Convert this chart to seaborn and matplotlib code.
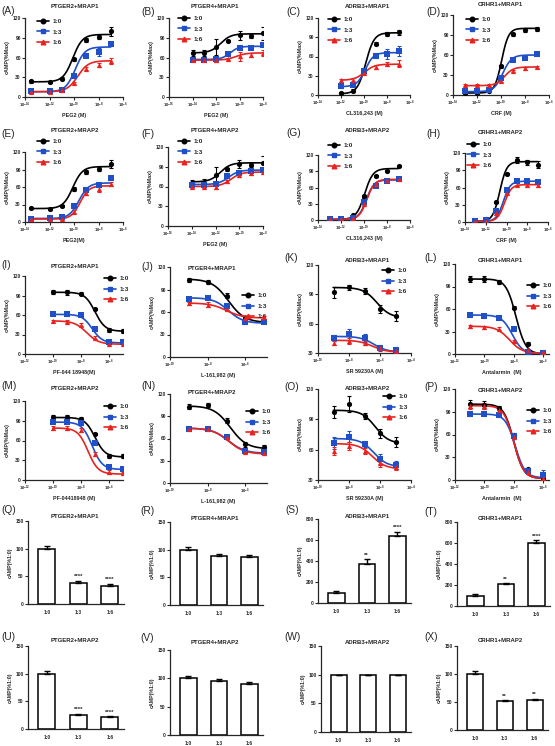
import numpy as np
import pandas as pd
import matplotlib
matplotlib.use("Agg")
import matplotlib.pyplot as plt
import seaborn as sns
from matplotlib.lines import Line2D
from matplotlib.ticker import FixedLocator, NullLocator, FuncFormatter

# ---------------- DATA ----------------
ratios = ["1:0", "1:3", "1:6"]

# Dose-response: x = log10 concentration (M); y = cAMP (%Max); fit = [low-conc level, high-conc level, logEC50, hill]
A_x = [-13.5, -12, -11, -10, -9, -8, -7]
A_10 = [24, 23, 28, 57, 86, 91, 100]; A_e10 = [2, 2, 2, 3, 3, 3, 7]
A_13 = [9, 9, 11, 32, 63, 69, 81];    A_e13 = [2, 2, 2, 3, 2, 6, 3]
A_16 = [8, 8, 10, 21, 43, 49, 55];    A_e16 = [2, 2, 2, 2, 2, 3, 5]
A_fit = [[23, 95, -10.1, 1.1], [8, 76, -9.9, 1.1], [8, 55, -9.7, 1.0]]

B_x = [-14, -13, -12, -11, -10, -9, -8]
B_10 = [67, 67, 76, 85, 94, 92, 97]; B_e10 = [4, 4, 12, 2, 7, 3, 10]
B_13 = [56, 56, 57, 65, 75, 75, 79]; B_e13 = [2, 2, 2, 2, 4, 3, 2]
B_16 = [56, 56, 56, 58, 62, 64, 67]; B_e16 = [2, 2, 3, 2, 7, 3, 4]
B_fit = [[67, 96, -11.6, 1.0], [57, 77, -10.8, 1.2], [56, 67, -10.3, 1.0]]

C_x = [-12, -11, -10, -9, -8, -7]
C_10 = [3, 7, 39, 80, 95, 98];   C_e10 = [2, 2, 2, 2, 3, 4]
C_13 = [14, 16, 37, 61, 64, 69]; C_e13 = [3, 2, 2, 4, 8, 8]
C_16 = [23, 24, 34, 44, 48, 49]; C_e16 = [2, 2, 2, 3, 3, 5]
C_fit = [[2, 97, -9.85, 1.2], [13, 66, -9.9, 1.2], [23, 48, -9.95, 1.0]]

D_x = [-13, -12, -11, -10, -9, -8, -7]
D_10 = [3, 3, 6, 43, 91, 97, 99];   D_e10 = [1, 1, 1, 2, 2, 3, 3]
D_13 = [6, 6, 8, 26, 52, 56, 61];   D_e13 = [1, 1, 1, 2, 2, 2, 2]
D_16 = [15, 15, 15, 21, 36, 40, 42]; D_e16 = [1, 1, 1, 2, 2, 2, 2]
D_fit = [[3, 100, -9.95, 1.5], [5, 60, -9.85, 1.2], [14, 42, -9.7, 1.2]]

E_x = [-13.5, -12, -11, -10, -9, -8, -7]
E_10 = [24, 22, 28, 57, 86, 91, 100]; E_e10 = [2, 2, 2, 3, 3, 3, 7]
E_13 = [6, 7, 8, 27, 55, 63, 75];     E_e13 = [2, 2, 2, 3, 3, 3, 3]
E_16 = [5, 5, 6, 18, 50, 57, 65];     E_e16 = [2, 2, 2, 3, 3, 5, 3]
E_fit = [[23, 95, -10.1, 1.1], [6, 67, -9.6, 1.1], [5, 62, -9.5, 1.2]]

F_x = [-14, -13, -12, -11, -10, -9, -8]
F_10 = [65, 66, 77, 86, 94, 92, 96]; F_e10 = [5, 5, 13, 2, 6, 3, 10]
F_13 = [63, 63, 64, 76, 80, 84, 85]; F_e13 = [3, 3, 3, 2, 3, 2, 3]
F_16 = [60, 60, 59, 68, 78, 80, 82]; F_e16 = [3, 3, 3, 2, 3, 3, 3]
F_fit = [[67, 96, -11.6, 1.0], [63, 85, -10.9, 1.0], [60, 82, -10.7, 1.0]]

G_x = [-13, -12, -11, -10, -9, -8, -7]
G_10 = [1, 1, 9, 45, 81, 91, 100]; G_e10 = [1, 1, 1, 2, 2, 2, 2]
G_13 = [1, 1, 4, 33, 63, 72, 75];  G_e13 = [1, 1, 1, 2, 2, 2, 2]
G_16 = [1, 1, 3, 29, 66, 74, 76];  G_e16 = [1, 1, 1, 2, 2, 2, 2]
G_fit = [[1, 95, -9.95, 1.2], [1, 74, -9.8, 1.3], [1, 75, -9.75, 1.3]]

H_x = [-13, -12, -11, -10, -9, -8, -7]
H_10 = [1, 5, 35, 84, 108, 104, 100]; H_e10 = [1, 1, 2, 2, 5, 4, 6]
H_13 = [1, 3, 20, 56, 71, 71, 70];    H_e13 = [1, 1, 2, 2, 3, 3, 3]
H_16 = [1, 2, 15, 50, 65, 65, 64];    H_e16 = [1, 1, 2, 2, 3, 3, 3]
H_fit = [[1, 105, -10.65, 1.3], [1, 71, -10.3, 1.3], [1, 65, -10.2, 1.3]]

I_x = [-10, -9, -8, -7, -6, -5]
I_10 = [95, 95, 93, 69, 37, 36]; I_e10 = [3, 4, 2, 2, 3, 3]
I_13 = [61, 61, 60, 38, 18, 18]; I_e13 = [3, 2, 2, 3, 3, 3]
I_16 = [51, 50, 45, 25, 16, 16]; I_e16 = [2, 2, 2, 2, 2, 2]
I_fit = [[95, 35, -7.0, 1.2], [61, 17, -7.2, 1.2], [51, 15, -7.6, 1.0]]

J_x = [-9, -8, -7, -6, -5]
J_10 = [103, 100, 82, 52, 48]; J_e10 = [3, 3, 3, 3, 3]
J_13 = [77, 79, 68, 47, 47];   J_e13 = [3, 3, 2, 3, 2]
J_16 = [72, 70, 64, 52, 53];   J_e16 = [2, 3, 2, 2, 2]
J_fit = [[104, 46, -6.9, 1.0], [79, 45, -6.9, 1.1], [72, 52, -7.0, 1.0]]

K_x = [-9, -8, -7, -6, -5]
K_10 = [92, 97, 93, 75, 68]; K_e10 = [6, 3, 3, 4, 5]
K_13 = [45, 49, 45, 35, 33]; K_e13 = [3, 6, 4, 3, 3]
K_16 = [40, 42, 40, 35, 32]; K_e16 = [2, 3, 2, 2, 2]
K_fit = [[97, 66, -6.2, 1.0], [47, 31, -6.4, 1.0], [43, 31, -6.5, 1.0]]

L_x = [-11, -10, -9, -8, -7, -6]
L_10 = [100, 100, 96, 62, 14, 2]; L_e10 = [4, 4, 3, 2, 2, 2]
L_13 = [52, 51, 48, 33, 3, 2];    L_e13 = [3, 3, 2, 2, 2, 2]
L_16 = [37, 36, 34, 17, 5, 3];    L_e16 = [2, 2, 2, 2, 2, 2]
L_fit = [[100, 0, -7.85, 1.3], [52, 0, -8.1, 1.2], [37, 1, -8.3, 1.0]]

M_x = [-10, -9, -8, -7, -6, -5]
M_10 = [95, 95, 93, 70, 37, 36]; M_e10 = [3, 4, 3, 2, 3, 3]
M_13 = [88, 88, 86, 56, 20, 17]; M_e13 = [3, 3, 3, 3, 3, 3]
M_16 = [79, 79, 76, 40, 12, 10]; M_e16 = [3, 3, 3, 3, 3, 2]
M_fit = [[95, 35, -7.0, 1.2], [88, 16, -7.2, 1.2], [79, 9, -7.5, 1.2]]

N_x = [-9, -8, -7, -6, -5]
N_10 = [103, 105, 84, 52, 48]; N_e10 = [3, 3, 3, 3, 3]
N_13 = [73, 73, 62, 43, 42];   N_e13 = [2, 2, 2, 2, 2]
N_16 = [73, 73, 62, 42, 40];   N_e16 = [2, 2, 2, 2, 2]
N_fit = [[104, 46, -6.8, 1.0], [74, 40, -6.9, 1.0], [74, 39, -6.9, 1.0]]

O_x = [-9, -8, -7, -6, -5]
O_10 = [97, 105, 93, 76, 68]; O_e10 = [6, 8, 3, 4, 5]
O_13 = [67, 73, 66, 51, 45];  O_e13 = [6, 5, 3, 5, 4]
O_16 = [59, 64, 59, 47, 43];  O_e16 = [4, 4, 3, 4, 3]
O_fit = [[99, 66, -6.3, 1.0], [71, 43, -6.4, 1.0], [66, 41, -6.5, 1.0]]

P_x = [-11, -10, -9, -8, -7, -6]
P_10 = [100, 99, 95, 59, 14, 3]; P_e10 = [5, 5, 3, 3, 2, 2]
P_13 = [87, 87, 86, 58, 12, 7];  P_e13 = [3, 3, 3, 3, 2, 6]
P_16 = [97, 97, 92, 57, 11, 2];  P_e16 = [4, 4, 3, 3, 2, 2]
P_fit = [[100, 2, -8.0, 1.3], [87, 3, -7.9, 1.3], [98, 2, -8.0, 1.3]]

# Bar panels: cAMP (% of 1:0)
Q_vals = [100, 38, 33];   Q_err = [4, 4, 4];    Q_stars = ["", "****", "****"]
R_vals = [100, 88, 87];   R_err = [5, 5, 3];    R_stars = ["", "", ""]
S_vals = [100, 370, 640]; S_err = [10, 45, 40]; S_stars = ["", "**", "****"]
T_vals = [100, 210, 600]; T_err = [15, 5, 25];  T_stars = ["", "**", "****"]
U_vals = [100, 25, 21];   U_err = [4, 2, 2];    U_stars = ["", "****", "****"]
V_vals = [100, 96, 90];   V_err = [5, 3, 4];    V_stars = ["", "", ""]
W_vals = [100, 100, 100]; W_err = [0, 0, 0];    W_stars = ["", "", ""]
X_vals = [100, 51, 54];   X_err = [5, 2, 2];    X_stars = ["", "**", "**"]

# ---------------- STYLE ----------------
sns.set_style("ticks")
plt.rcParams['font.family'] = ['Liberation Sans', 'DejaVu Sans']
plt.rcParams['mathtext.default'] = 'regular'

W, H = 555, 746
fig = plt.figure(figsize=(W / 100, H / 100), dpi=100)
COLORS = ["#000000", "#1f50c8", "#e8231f"]
MARKERS = ["o", "s", "^"]


def add_ax(l, t, r, b):
    return fig.add_axes([l / W, 1 - b / H, (r - l) / W, (b - t) / H])


def fpx(x, y):
    return (x / W, 1 - y / H)


def style_axes(ax):
    sns.despine(ax=ax)
    for s in ("left", "bottom"):
        ax.spines[s].set_linewidth(0.9)
    ax.tick_params(axis="both", direction="out", length=2, width=0.8, pad=1,
                   labelsize=3.5)
    for lab in ax.get_xticklabels() + ax.get_yticklabels():
        lab.set_fontweight("bold")


def fourpl(xs, p):
    lo, hi, ec, h = p
    return lo + (hi - lo) / (1 + 10 ** ((ec - xs) * h))


def curve_panel(rect, x, ys, errs, fits, title, tpos, label, lpos, xlabel,
                xlim, xticks, ylim, yticks, leg):
    ax = add_ax(*rect)
    xs = np.linspace(min(x), max(x), 300)
    for i in range(3):
        df = pd.DataFrame({"x": 10.0 ** np.array(x), "y": ys[i]})
        cf = pd.DataFrame({"x": 10.0 ** xs, "y": fourpl(xs, fits[i])})
        ax.errorbar(df["x"], df["y"], yerr=errs[i], fmt="none", ecolor=COLORS[i],
                    elinewidth=0.8, capsize=1.3, capthick=0.8, zorder=2 + i)
        sns.lineplot(data=cf, x="x", y="y", ax=ax, color=COLORS[i], linewidth=1.2,
                     zorder=2 + i)
        sns.scatterplot(data=df, x="x", y="y", ax=ax, color=COLORS[i],
                        marker=MARKERS[i], s=14, linewidth=0, zorder=5 + i)
    ax.set_xscale("log")
    ax.set_xlim(10.0 ** xlim[0], 10.0 ** xlim[1])
    ax.xaxis.set_major_locator(FixedLocator([10.0 ** t for t in xticks]))
    ax.xaxis.set_minor_locator(NullLocator())
    ax.xaxis.set_major_formatter(FuncFormatter(lambda v, p: "$10^{%d}$" % round(np.log10(v))))
    ax.set_ylim(*ylim)
    ax.set_yticks(yticks)
    ax.set_xlabel(xlabel, fontsize=3.9, fontweight="bold", labelpad=2)
    ax.set_ylabel("cAMP(%Max)", fontsize=3.9, fontweight="bold", labelpad=2)
    style_axes(ax)
    ax.tick_params(axis="x", labelsize=3.0)
    fig.text(*fpx(*tpos), title, fontsize=4.3, fontweight="bold", ha="center", va="center")
    fig.text(*fpx(*lpos), label, fontsize=7.3, ha="left", va="center")
    handles = [Line2D([0], [0], color=COLORS[i], marker=MARKERS[i], markersize=3.3,
                      linewidth=1.2) for i in range(3)]
    ax.legend(handles, ratios, loc="upper left", bbox_to_anchor=fpx(*leg),
              bbox_transform=fig.transFigure, frameon=False,
              borderpad=0, borderaxespad=0, handlelength=1.9, handletextpad=0.5,
              labelspacing=0.75, prop={"weight": "bold", "size": 4.6})
    return ax


def bar_panel(rect, vals, err, stars, title, tpos, label, lpos, ylim, yticks):
    ax = add_ax(*rect)
    df = pd.DataFrame({"ratio": ratios, "val": vals})
    sns.barplot(data=df, x="ratio", y="val", ax=ax, color="white", edgecolor="black",
                linewidth=1.1, width=0.54, errorbar=None)
    pos = np.arange(3)
    ax.errorbar(pos, vals, yerr=[np.zeros(3), err], fmt="none", ecolor="black",
                elinewidth=1.0, capsize=2.5, capthick=1.0)
    span = ylim[1] - ylim[0]
    for i in range(3):
        if stars[i]:
            ax.text(pos[i], vals[i] + err[i] + span * 0.02, stars[i], ha="center",
                    va="bottom", fontsize=4.3, fontweight="bold")
    ax.set_xlim(-0.6, 2.45)
    ax.set_ylim(*ylim)
    ax.set_yticks(yticks)
    ax.set_xlabel("")
    ax.set_ylabel("cAMP(%1:0)", fontsize=3.8, fontweight="bold", labelpad=2)
    style_axes(ax)
    ax.tick_params(axis="x", length=0, pad=4)
    fig.text(*fpx(*tpos), title, fontsize=4.3, fontweight="bold", ha="center", va="center")
    fig.text(*fpx(*lpos), label, fontsize=7.3, ha="left", va="center")
    return ax


Y0 = (0, 120); YT0 = [0, 30, 60, 90, 120]
Y3 = (30, 120); YT3 = [30, 60, 90, 120]
T14 = [-14, -12, -10, -8, -6]
T16 = [-16, -14, -12, -10, -8]

# Row 1
curve_panel((25, 18, 123, 97), A_x, [A_10, A_13, A_16], [A_e10, A_e13, A_e16], A_fit,
            "PTGER2+MRAP1", (75, 6), "(A)", (1, 11), "PEG2 (M)", (-14, -6), T14, Y0, YT0, (37, 19))
curve_panel((169, 18, 263, 97), B_x, [B_10, B_13, B_16], [B_e10, B_e13, B_e16], B_fit,
            "PTGER4+MRAP1", (215, 7), "(B)", (141, 12), "PEG2 (M)", (-16, -8), T16, Y0, YT0, (178, 16))
curve_panel((318, 18, 410, 95), C_x, [C_10, C_13, C_16], [C_e10, C_e13, C_e16], C_fit,
            "ADRB3+MRAP1", (367, 6), "(C)", (286, 12), "CL316,243 (M)", (-14, -6), T14, Y0, YT0, (328, 17))
curve_panel((453, 15, 549, 95), D_x, [D_10, D_13, D_16], [D_e10, D_e13, D_e16], D_fit,
            "CRHR1+MRAP1", (500, 5), "(D)", (426, 12), "CRF (M)", (-14, -6), T14, Y0, YT0, (466, 17))
# Row 2
curve_panel((25, 152, 123, 222), E_x, [E_10, E_13, E_16], [E_e10, E_e13, E_e16], E_fit,
            "PTGER2+MRAP2", (75, 131), "(E)", (1, 134), "PEG2(M)", (-14, -6), T14, Y0, YT0, (37, 139))
curve_panel((168, 147, 263, 226), F_x, [F_10, F_13, F_16], [F_e10, F_e13, F_e16], F_fit,
            "PTGER4+MRAP2", (215, 131), "(F)", (141, 134), "PEG2 (M)", (-16, -8), T16, Y0, YT0, (178, 139))
curve_panel((318, 155, 410, 220), G_x, [G_10, G_13, G_16], [G_e10, G_e13, G_e16], G_fit,
            "ADRB3+MRAP2", (367, 131), "(G)", (286, 133), "CL316,243 (M)", (-14, -6), T14, Y0, YT0, (328, 143))
curve_panel((465, 153, 548, 222), H_x, [H_10, H_13, H_16], [H_e10, H_e13, H_e16], H_fit,
            "CRHR1+MRAP2", (500, 132), "(H)", (426, 134), "CRF (M)", (-14, -6), T14, Y0, YT0, (467, 142))
# Row 3
curve_panel((25, 276, 123, 354), I_x, [I_10, I_13, I_16], [I_e10, I_e13, I_e16], I_fit,
            "PTGER2+MRAP1", (75, 267), "(I)", (1, 265), "PF-044 18948(M)", (-12, -5), [-12, -10, -8, -6], Y0, YT0, (104, 276))
curve_panel((170, 267, 267, 357), J_x, [J_10, J_13, J_16], [J_e10, J_e13, J_e16], J_fit,
            "PTGER4+MRAP1", (212, 269), "(J)", (141, 267), "L-161,982 (M)", (-10, -4.85), [-10, -8, -6], Y0, YT0, (242, 293))
curve_panel((318, 265, 411, 353), K_x, [K_10, K_13, K_16], [K_e10, K_e13, K_e16], K_fit,
            "ADRB3+MRAP1", (367, 260), "(K)", (284, 258), "SR 59230A (M)", (-10, -4), [-10, -8, -6, -4], Y3, YT3, (382, 268))
curve_panel((455, 264, 549, 354), L_x, [L_10, L_13, L_16], [L_e10, L_e13, L_e16], L_fit,
            "CRHR1+MRAP1", (500, 261), "(L)", (424, 258), "Antalarmin  (M)", (-12, -5.6), [-12, -10, -8, -6], Y0, YT0, (527, 283))
# Row 4
curve_panel((25, 401, 123, 480), M_x, [M_10, M_13, M_16], [M_e10, M_e13, M_e16], M_fit,
            "PTGER2+MRAP2", (75, 389), "(M)", (1, 386), "PF-04418948 (M)", (-12, -5), [-12, -10, -8, -6], Y0, YT0, (104, 404))
curve_panel((170, 394, 267, 483), N_x, [N_10, N_13, N_16], [N_e10, N_e13, N_e16], N_fit,
            "PTGER4+MRAP2", (212, 392), "(N)", (141, 386), "L-161,982 (M)", (-10, -4.85), [-10, -8, -6], Y0, YT0, (246, 409))
curve_panel((318, 389, 411, 480), O_x, [O_10, O_13, O_16], [O_e10, O_e13, O_e16], O_fit,
            "ADRB3+MRAP2", (367, 388), "(O)", (284, 387), "SR 59230A (M)", (-10, -4), [-10, -8, -6, -4], Y3, YT3, (383, 394))
curve_panel((455, 389, 549, 480), P_x, [P_10, P_13, P_16], [P_e10, P_e13, P_e16], P_fit,
            "CRHR1+MRAP2", (500, 390), "(P)", (424, 387), "Antalarmin  (M)", (-12, -5.6), [-12, -10, -8, -6], Y0, YT0, (527, 408))
# Row 5
YB = (0, 150); YTB = [0, 50, 100, 150]
YS = (0, 800); YTS = [0, 200, 400, 600, 800]
bar_panel((28, 521, 124, 604), Q_vals, Q_err, Q_stars, "PTGER2+MRAP1", (75, 516), "(Q)", (1, 510), YB, YTB)
bar_panel((170, 522, 263, 605), R_vals, R_err, R_stars, "PTGER4+MRAP1", (215, 518), "(R)", (140, 511), YB, YTB)
bar_panel((318, 519, 411, 603), S_vals, S_err, S_stars, "ADRB3+MRAP1", (367, 516), "(S)", (285, 510), YS, YTS)
bar_panel((457, 522, 550, 606), T_vals, T_err, T_stars, "CRHR1+MRAP1", (500, 519), "(T)", (424, 512), YS, YTS)
# Row 6
bar_panel((28, 646, 124, 729), U_vals, U_err, U_stars, "PTGER2+MRAP2", (75, 640), "(U)", (1, 637), YB, YTB)
bar_panel((170, 650, 263, 735), V_vals, V_err, V_stars, "PTGER4+MRAP2", (215, 643), "(V)", (140, 638), YB, YTB)
bar_panel((321, 646, 411, 732), W_vals, W_err, W_stars, "ADRB3+MRAP2", (367, 643), "(W)", (284, 637), YB, YTB)
bar_panel((457, 646, 548, 730), X_vals, X_err, X_stars, "CRHR1+MRAP2", (500, 640), "(X)", (424, 637), YB, YTB)

fig.savefig("out.png", dpi=100)
